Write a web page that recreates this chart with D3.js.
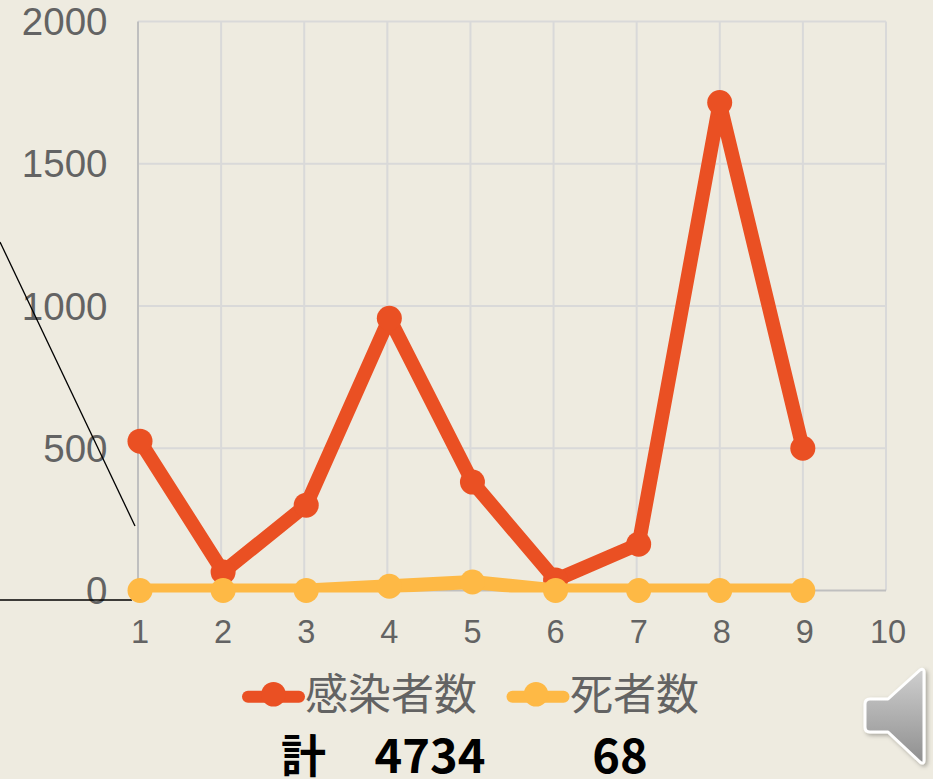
<!DOCTYPE html>
<html>
<head>
<meta charset="utf-8">
<script src="https://cdn.jsdelivr.net/npm/d3@7"></script>
<style>
    html, body { margin: 0; padding: 0; background: #eeebe0; }
    svg { display: block; }
    text { font-family: "Liberation Sans", sans-serif; }
</style>
</head>
<body>
<svg id="chart" width="933" height="779"></svg>
<script>
// values
const months = [1, 2, 3, 4, 5, 6, 7, 7.975, 8.975];
const infected = [525, 65, 300, 957, 381, 37, 163, 1715, 500];
const deaths = [0, 0, 0, 15, 30, 0, 0, 0, 0];
const xTicks = [1, 2, 3, 4, 5, 6, 7, 8, 9, 10];
const yTicks = [0, 500, 1000, 1500, 2000];
const seriesNames = ['感染者数', '死者数'];
const seriesColors = ['#ea5023', '#feb945'];
const totals = ['4734', '68'];

let width = 933;
let height = 779;
let svg = d3.select('#chart');
let defs = svg.append('defs');

let xScale = d3.scaleLinear().domain([1, 10]).range([140, 888]);
let yScale = d3.scaleLinear().domain([0, 2000]).range([590.5, 21.5]);

// grid, shifted 2px left of the points like in the original
let gridOffset = -2;
let grid = svg.append('g');
grid.selectAll('line.h')
    .data(yTicks.slice(1))
    .join('line')
    .attr('class', 'h')
    .attr('x1', xScale(1) + gridOffset)
    .attr('x2', xScale(10) + gridOffset)
    .attr('y1', d => yScale(d))
    .attr('y2', d => yScale(d))
    .attr('stroke', '#d9d9d9')
    .attr('stroke-width', 2);
grid.selectAll('line.v')
    .data(xTicks.slice(1))
    .join('line')
    .attr('class', 'v')
    .attr('x1', d => xScale(d) + gridOffset)
    .attr('x2', d => xScale(d) + gridOffset)
    .attr('y1', yScale(2000))
    .attr('y2', yScale(0))
    .attr('stroke', '#d9d9d9')
    .attr('stroke-width', 2);

// axis lines
grid.append('line')
    .attr('x1', xScale(1) + gridOffset).attr('x2', xScale(1) + gridOffset)
    .attr('y1', yScale(2000)).attr('y2', yScale(0))
    .attr('stroke', '#bfbfbf').attr('stroke-width', 2);
grid.append('line')
    .attr('x1', xScale(1) + gridOffset).attr('x2', xScale(10) + gridOffset)
    .attr('y1', yScale(0)).attr('y2', yScale(0))
    .attr('stroke', '#bfbfbf').attr('stroke-width', 2);

// tick labels
svg.append('g').selectAll('text')
    .data(yTicks)
    .join('text')
    .attr('x', 107.5)
    .attr('y', d => yScale(d) + 13.5)
    .attr('text-anchor', 'end')
    .attr('font-size', 38.5)
    .attr('fill', '#636363')
    .text(d => d);
svg.append('g').selectAll('text')
    .data(xTicks)
    .join('text')
    .attr('x', d => xScale(d))
    .attr('y', 642.5)
    .attr('text-anchor', 'middle')
    .attr('font-size', 32.5)
    .attr('fill', '#636363')
    .text(d => d);

// the two stray callout lines
svg.append('line').attr('x1', 0).attr('y1', 242).attr('x2', 135).attr('y2', 526)
    .attr('stroke', '#000').attr('stroke-width', 1.3);
svg.append('line').attr('x1', 0).attr('y1', 600).attr('x2', 132).attr('y2', 600)
    .attr('stroke', '#000').attr('stroke-width', 1.5);

// series lines stop at the plot floor, the dots do not
defs.append('clipPath')
    .attr('id', 'plotClip')
    .append('rect')
    .attr('width', width)
    .attr('height', yScale(0) + 2);

function drawSeries(values, color) {
    let line = d3.line()
        .x((d, i) => xScale(months[i]))
        .y(d => yScale(d));
    let g = svg.append('g');
    g.append('path')
        .attr('d', line(values))
        .attr('fill', 'none')
        .attr('stroke', color)
        .attr('stroke-width', 14)
        .attr('stroke-linejoin', 'round')
        .attr('clip-path', 'url(#plotClip)');
    g.selectAll('circle')
        .data(values)
        .join('circle')
        .attr('cx', (d, i) => xScale(months[i]))
        .attr('cy', d => yScale(d))
        .attr('r', 12.5)
        .attr('fill', color);
}
drawSeries(infected, seriesColors[0]);
drawSeries(deaths, seriesColors[1]);

// legend
let legendLine = [273.5, 538];
let legendDot = [273.5, 536];
let legendText = [305, 570];
seriesNames.forEach((name, i) => {
    svg.append('line')
        .attr('x1', legendLine[i] - 25.5).attr('x2', legendLine[i] + 25.5)
        .attr('y1', 696.7).attr('y2', 696.7)
        .attr('stroke', seriesColors[i])
        .attr('stroke-width', 12)
        .attr('stroke-linecap', 'round');
    svg.append('circle')
        .attr('cx', legendDot[i]).attr('cy', 694.3)
        .attr('r', 12.3)
        .attr('fill', seriesColors[i]);
    svg.append('text')
        .attr('x', legendText[i])
        .attr('y', 710)
        .attr('font-size', 43)
        .attr('fill', '#636363')
        .style('font-family', '"Noto Sans CJK JP"')
        .text(name);
});

// totals row
let totalFont = '"Noto Sans CJK JP"';
svg.append('text')
    .attr('x', 281).attr('y', 773)
    .attr('font-size', 45).attr('font-weight', 700)
    .style('font-family', totalFont)
    .text('計');
svg.append('text')
    .attr('x', 430).attr('y', 773)
    .attr('text-anchor', 'middle')
    .attr('font-size', 47).attr('font-weight', 700)
    .style('font-family', totalFont)
    .text(totals[0]);
svg.append('text')
    .attr('x', 620).attr('y', 773)
    .attr('text-anchor', 'middle')
    .attr('font-size', 47).attr('font-weight', 700)
    .style('font-family', totalFont)
    .text(totals[1]);

// speaker icon
let grad = defs.append('linearGradient')
    .attr('id', 'speaker').attr('x1', 0).attr('y1', 0).attr('x2', 0).attr('y2', 1);
grad.append('stop').attr('offset', '0%').attr('stop-color', '#cfcfcf');
grad.append('stop').attr('offset', '100%').attr('stop-color', '#8f8f8f');
let shadow = defs.append('filter').attr('id', 'iconShadow')
    .attr('x', '-20%').attr('y', '-20%').attr('width', '150%').attr('height', '150%');
shadow.append('feDropShadow')
    .attr('dx', 2).attr('dy', 2).attr('stdDeviation', 2)
    .attr('flood-color', '#000').attr('flood-opacity', 0.3);
svg.append('path')
    .attr('d', 'M888,699 L920,670 Q924,668 924,672 L924,760 Q924,765 920,762 L888,732 L870,732 Q865,732 865,727 L865,704 Q865,699 870,699 Z')
    .attr('fill', 'url(#speaker)')
    .attr('stroke', '#fff')
    .attr('stroke-width', 3)
    .attr('stroke-linejoin', 'round')
    .attr('filter', 'url(#iconShadow)');
</script>
</body>
</html>
